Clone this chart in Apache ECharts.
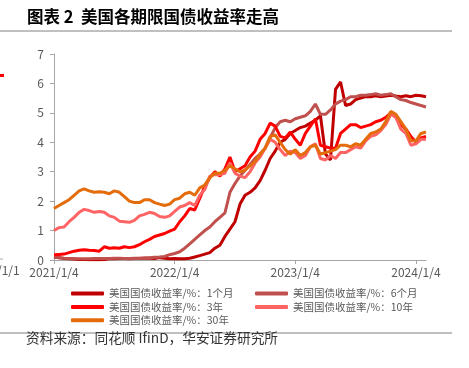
<!DOCTYPE html>
<html>
<head>
<meta charset="utf-8">
<script src="https://cdn.jsdelivr.net/npm/echarts@6/dist/echarts.min.js"></script>
<style>
html, body { margin: 0; padding: 0; background: #fff; }
#chart { width: 469px; height: 368px; }
</style>
</head>
<body>
<div id="chart"></div>
<script>
// semi-monthly sample dates, 2021/1/4 .. 2024/2/1
const dates = []
for (let y = 2021; y <= 2024; y++) {
    for (let m = 1; m <= 12; m++) {
        if (y === 2024 && m > 1) break
        dates.push(`${y}/${m}/4`, `${y}/${m}/18`)
    }
}
dates.push('2024/2/1')
const xLabels = ['2021/1/4', '2022/1/4', '2023/1/4', '2024/1/4']

const names = [
    '美国国债收益率/%：1个月',
    '美国国债收益率/%：6个月',
    '美国国债收益率/%：3年',
    '美国国债收益率/%：10年',
    '美国国债收益率/%：30年'
]
const colors = ['#C00000', '#C0504D', '#FF0000', '#FF6464', '#E46C0A']

const y1m = [0.10,0.08,0.05,0.04,0.03,0.02,0.02,0.01,0.01,0.01,0.02,0.04,0.04,0.05,0.05,0.04,0.05,0.06,0.07,0.06,0.05,0.08,0.06,0.04,
    0.05,0.04,0.04,0.06,0.10,0.15,0.20,0.25,0.40,0.50,0.80,1.05,
    1.30,1.90,2.20,2.30,2.45,2.70,3.05,3.45,3.70,4.00,4.10,4.30,
    4.40,4.50,4.55,4.65,4.75,4.90,3.60,3.40,5.80,6.05,5.25,5.30,
    5.45,5.50,5.55,5.55,5.58,5.55,5.57,5.60,5.57,5.55,5.58,5.55,5.60,5.58,5.55]
const y6m = [0.10,0.08,0.06,0.05,0.04,0.04,0.04,0.04,0.05,0.05,0.05,0.05,0.06,0.06,0.05,0.05,0.06,0.05,0.06,0.08,0.09,0.10,0.12,0.18,
    0.22,0.28,0.40,0.55,0.70,0.85,1.00,1.12,1.30,1.45,1.60,2.30,
    2.60,2.85,3.05,3.25,3.45,3.60,3.80,4.15,4.50,4.70,4.75,4.70,
    4.80,4.85,4.90,5.05,5.30,4.95,4.95,5.10,5.30,5.40,5.45,5.55,
    5.55,5.60,5.60,5.62,5.65,5.60,5.62,5.65,5.55,5.45,5.42,5.35,5.30,5.25,5.20]
const y3y = [0.18,0.19,0.20,0.25,0.30,0.33,0.35,0.33,0.32,0.30,0.45,0.40,0.42,0.40,0.45,0.42,0.45,0.52,0.62,0.70,0.80,0.85,0.90,0.98,
    1.05,1.30,1.50,1.75,1.70,2.10,2.50,2.80,3.00,2.85,3.10,3.50,
    3.00,3.10,3.20,3.50,3.70,4.10,4.30,4.65,4.55,4.20,4.15,4.35,
    4.10,3.90,4.30,4.55,4.80,3.90,3.85,3.80,3.80,4.30,4.45,4.60,
    4.60,4.50,4.55,4.60,4.70,4.75,4.85,5.00,4.85,4.60,4.45,4.20,4.00,4.15,4.20]
const y10y = [1.00,1.10,1.12,1.30,1.45,1.62,1.72,1.68,1.62,1.65,1.62,1.50,1.45,1.32,1.30,1.28,1.35,1.50,1.55,1.62,1.58,1.48,1.45,1.50,
    1.65,1.80,1.85,1.95,1.85,2.20,2.40,2.85,2.90,2.90,2.95,3.30,
    2.95,2.85,2.80,3.00,3.30,3.50,3.80,4.10,4.00,3.75,3.55,3.70,
    3.65,3.45,3.55,3.85,3.95,3.45,3.40,3.55,3.45,3.65,3.65,3.75,
    3.85,3.80,4.05,4.20,4.25,4.40,4.60,4.95,4.85,4.45,4.30,3.90,3.95,4.10,4.10]
const y30y = [1.75,1.85,1.95,2.05,2.20,2.35,2.42,2.35,2.30,2.32,2.30,2.25,2.35,2.30,2.15,2.00,1.95,1.95,2.05,2.05,1.95,1.90,1.85,1.90,
    2.05,2.10,2.25,2.30,2.20,2.45,2.55,2.80,2.95,2.95,3.05,3.20,
    3.10,3.00,3.05,3.20,3.35,3.60,3.80,4.20,4.25,4.00,3.75,3.60,
    3.75,3.55,3.65,3.85,3.90,3.60,3.65,3.70,3.75,3.90,3.90,3.85,
    3.95,3.90,4.10,4.30,4.35,4.45,4.70,5.05,4.95,4.70,4.45,4.05,4.05,4.30,4.35]

const font = '"Noto Sans CJK SC", "Liberation Sans", sans-serif'
const axisColor = '#A6A6A6'
const labelColor = '#595959'
const showLabel = (i, v) => xLabels.includes(v)

const legendBase = {
    orient: 'vertical',
    top: 283,
    icon: 'roundRect',
    itemWidth: 33,
    itemHeight: 4,
    itemGap: 2.4,
    textStyle: { fontSize: 10.5, lineHeight: 11, color: labelColor, fontFamily: font }
}

const series = [y1m, y6m, y3y, y10y, y30y].map((d, i) => ({
    name: names[i],
    type: 'line',
    data: d,
    showSymbol: false,
    color: colors[i],
    lineStyle: { width: 3, color: colors[i] },
    animation: false
}))

const chart = echarts.init(document.getElementById('chart'))
chart.setOption({
    animation: false,
    textStyle: { fontFamily: font },
    grid: { left: 54, top: 54, right: 43, height: 206, containLabel: false },
    legend: [
        { ...legendBase, left: 66, data: [names[0], names[2], names[4]] },
        { ...legendBase, left: 250, data: [names[1], names[3]] }
    ],
    xAxis: {
        type: 'category',
        data: dates,
        boundaryGap: false,
        axisLine: { lineStyle: { color: axisColor } },
        axisTick: { interval: showLabel, length: 4, lineStyle: { color: axisColor } },
        axisLabel: { interval: showLabel, color: labelColor, fontSize: 12, margin: 6, fontFamily: font }
    },
    yAxis: {
        type: 'value',
        min: 0,
        max: 7,
        interval: 1,
        splitLine: { show: false },
        axisLine: { show: true, lineStyle: { color: axisColor } },
        axisTick: { show: true, length: 4, lineStyle: { color: axisColor } },
        axisLabel: { color: labelColor, fontSize: 12, margin: 10, fontFamily: font }
    },
    graphic: [
        { type: 'text', left: 27, top: 8, style: { text: '图表 2  美国各期限国债收益率走高', font: 'bold 16.5px ' + font, fill: '#000' } },
        { type: 'line', shape: { x1: 0, y1: 31, x2: 452, y2: 31 }, style: { stroke: '#808080', lineWidth: 1 } },
        { type: 'line', shape: { x1: 0, y1: 333, x2: 452, y2: 333 }, style: { stroke: '#808080', lineWidth: 1 } },
        { type: 'text', left: 26, top: 331, style: { text: '资料来源：同花顺 IfinD，华安证券研究所', font: '13.7px ' + font, fill: '#333' } },
        // edge of the neighbouring chart
        { type: 'text', left: -3, top: 264, style: { text: '/1/1', font: '12px ' + font, fill: labelColor } },
        { type: 'line', shape: { x1: 0, y1: 259, x2: 3, y2: 259 }, style: { stroke: axisColor, lineWidth: 1 } },
        { type: 'rect', shape: { x: 0, y: 74, width: 4, height: 3 }, style: { fill: '#FF0000' } }
    ],
    series
})
</script>
</body>
</html>
